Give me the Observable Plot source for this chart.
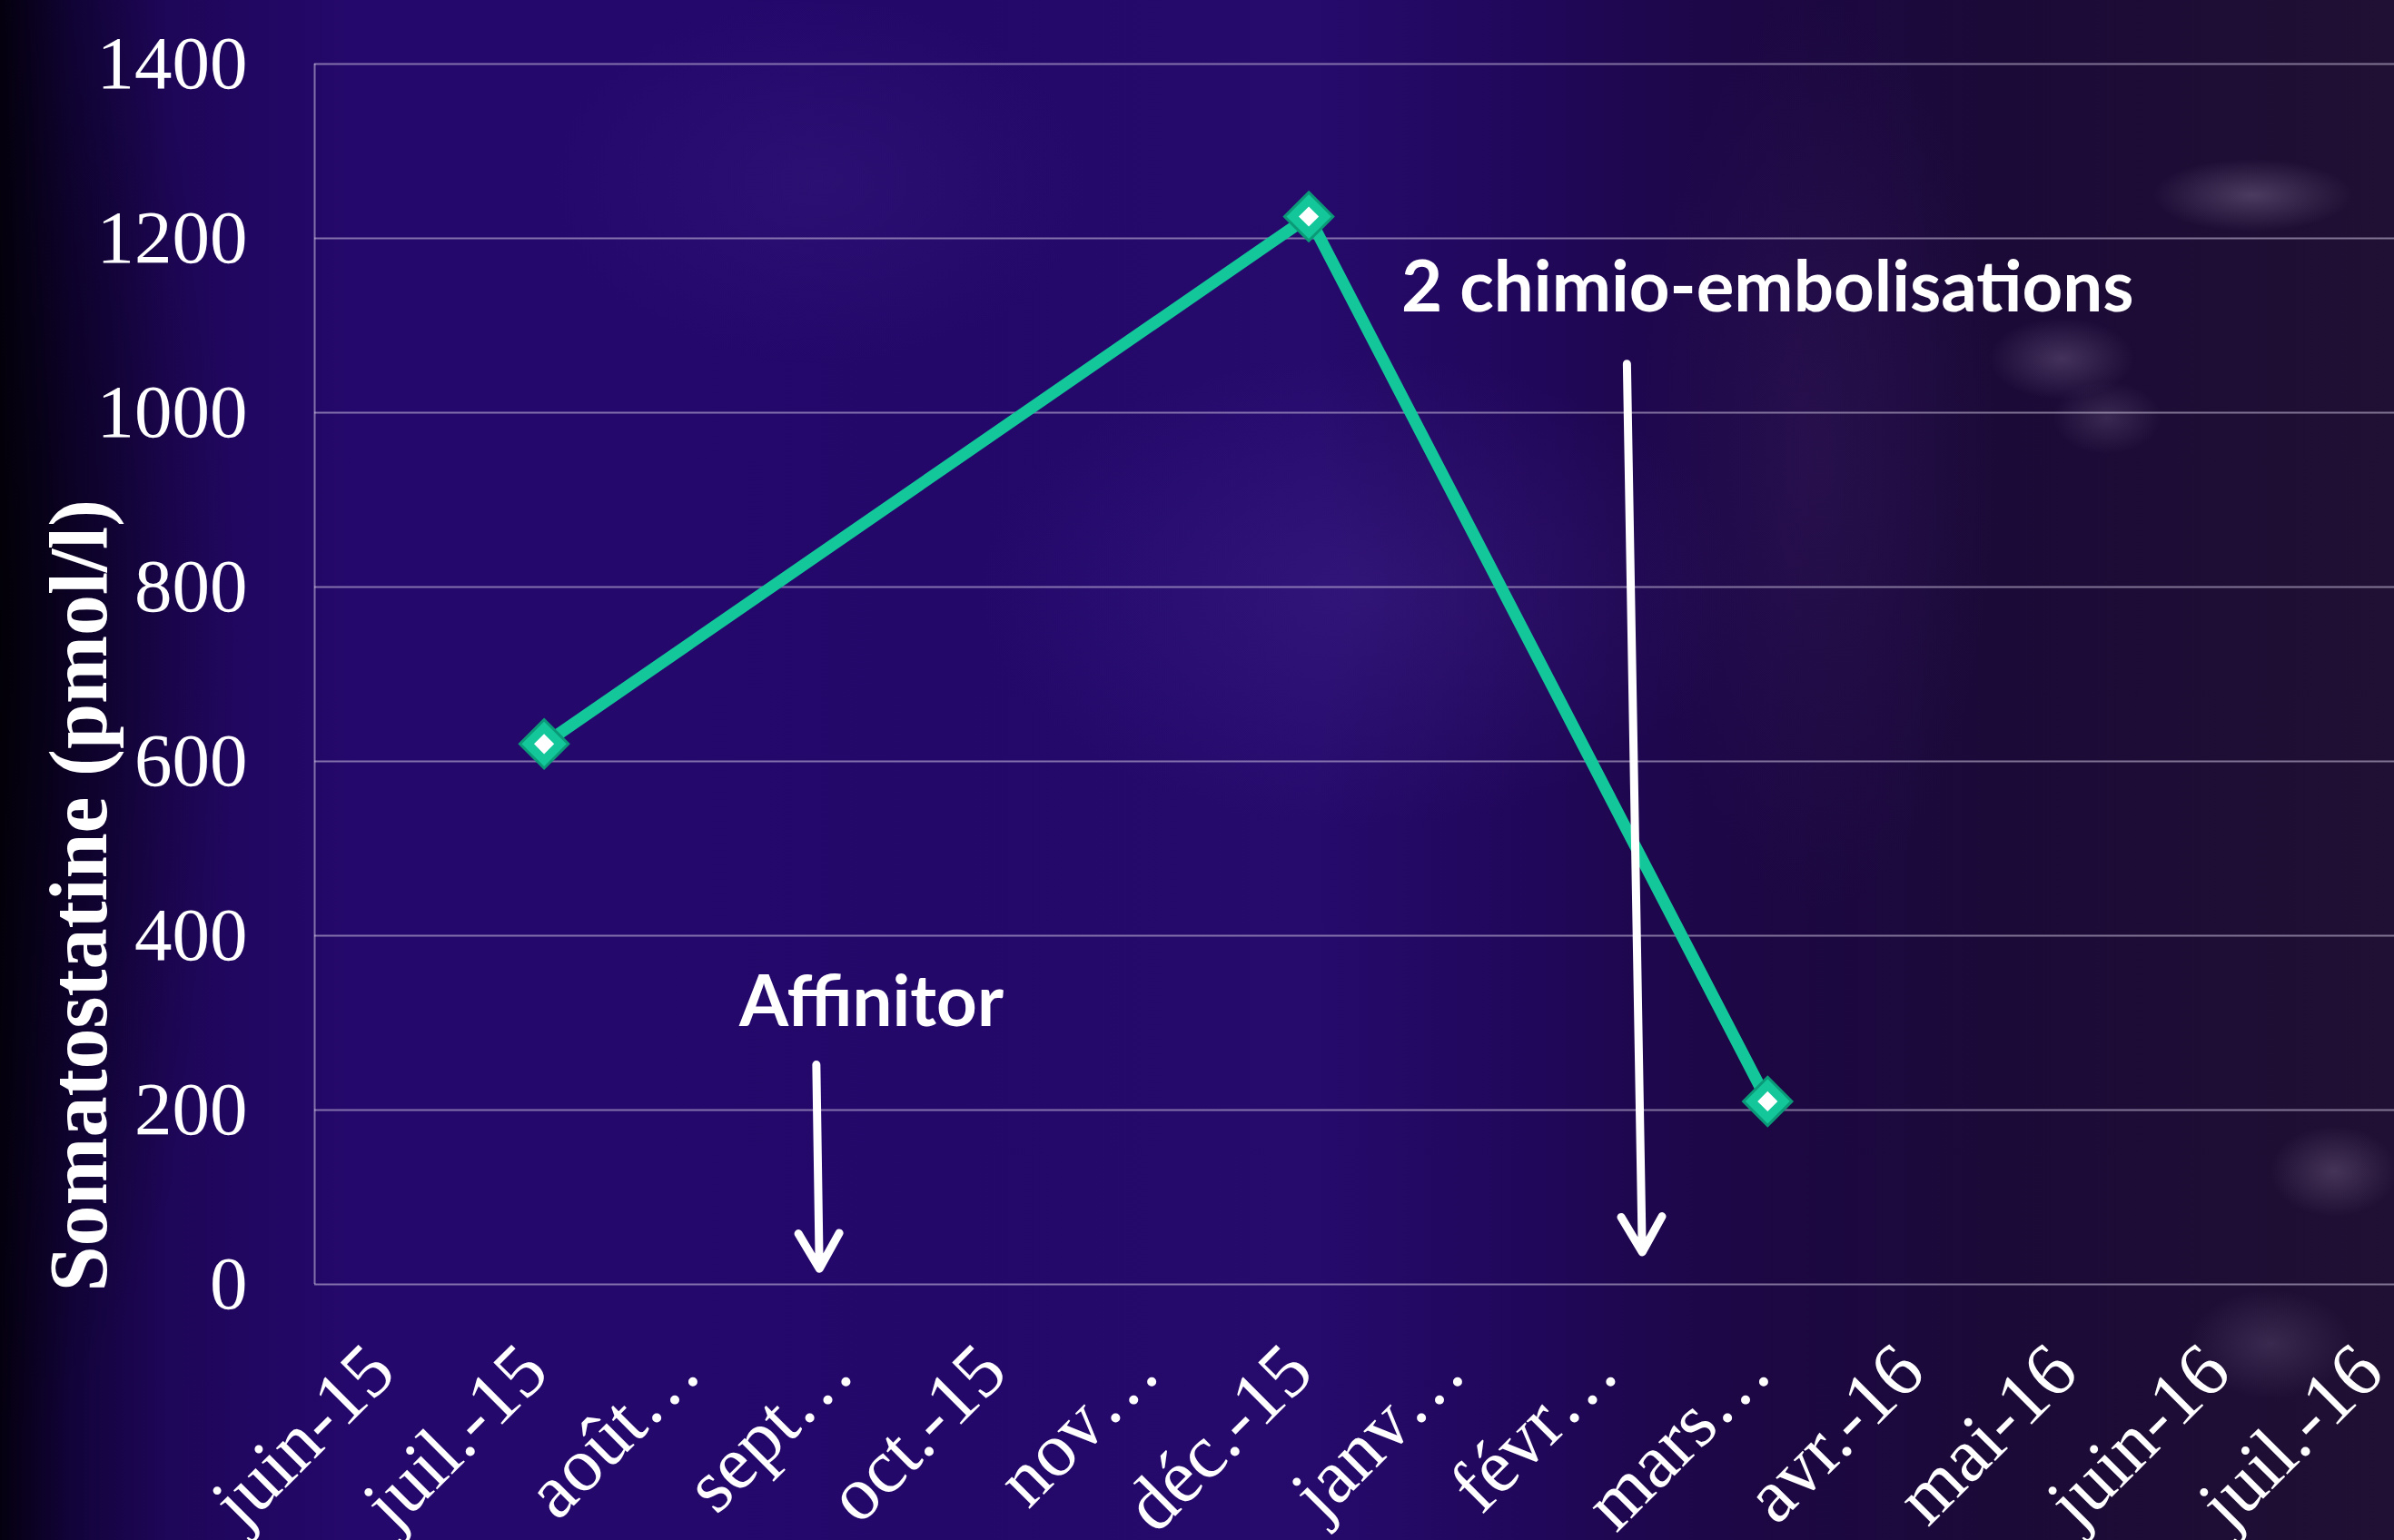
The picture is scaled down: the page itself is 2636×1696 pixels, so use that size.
<!DOCTYPE html>
<html><head><meta charset="utf-8">
<script src="https://cdn.jsdelivr.net/npm/d3@7"></script>
<script src="https://cdn.jsdelivr.net/npm/@observablehq/plot@0.6"></script>
<style>
html,body{margin:0;padding:0;width:2636px;height:1696px;overflow:hidden;}
body{
background:
 radial-gradient(ellipse 420px 260px at 1500px 650px, rgba(90,60,170,0.22), transparent),
 radial-gradient(ellipse 300px 200px at 900px 200px, rgba(80,50,150,0.18), transparent),
 radial-gradient(ellipse 110px 40px at 2480px 215px, rgba(210,195,225,0.25), transparent),
 radial-gradient(ellipse 80px 45px at 2270px 395px, rgba(210,190,225,0.22), transparent),
 radial-gradient(ellipse 60px 40px at 2320px 460px, rgba(210,190,225,0.16), transparent),
 radial-gradient(ellipse 70px 50px at 2570px 1290px, rgba(220,200,230,0.2), transparent),
 radial-gradient(ellipse 90px 60px at 2500px 1480px, rgba(200,180,220,0.16), transparent),
 radial-gradient(ellipse 200px 500px at 2000px 500px, rgba(70,40,110,0.25), transparent),
 radial-gradient(ellipse 260px 900px at 0px 700px, rgba(0,0,0,0.55), transparent),
 linear-gradient(to right, #050010 0%, #12033a 3%, #1e0658 7%, #25086c 15%, #23086a 40%, #260a6c 55%, #21075a 64%, #1d0746 72%, #1b0a37 84%, #201033 100%);
}
#chart svg{display:block;}
</style></head><body><div id="chart"></div><script>
// categories (months on the x axis)
const months = ["juin-15","juil.-15","août-15","sept.-15","oct.-15","nov.-15","déc.-15","janv.-16","févr.-16","mars-16","avr.-16","mai-16","juin-16","juil.-16"];
const tickLabels = ["juin-15","juil.-15","août…","sept…","oct.-15","nov…","déc.-15","janv…","févr…","mars…","avr.-16","mai-16","juin-16","juil.-16"];
// series
const sampleMonths = ["juil.-15","déc.-15","mars-16"];
const somatostatine = [620, 1225, 210];
// y ticks
const yTicks = [0,200,400,600,800,1000,1200,1400];
// annotations (x in month-index units, y in pmol/l)
const noteLabels = ["Affinitor","2 chimio-embolisations"];
const noteX = [3.14, 9.0];
const noteY = [296, 1116];
const arrowX1 = [2.78, 8.08];
const arrowY1 = [252, 1056];
const arrowX2 = [2.80, 8.18];
const arrowY2 = [18, 37];
const yLabel = "Somatostatine (pmol/l)";

const samples = sampleMonths.map((m,i)=>({x: months.indexOf(m), y: somatostatine[i]}));
const notes = noteLabels.map((t,i)=>({text:t, x:noteX[i], y:noteY[i]}));
const arrows = arrowX1.map((_,i)=>({x1:arrowX1[i], y1:arrowY1[i], x2:arrowX2[i], y2:arrowY2[i]}));

const teal = "#13c79b";
const grid = "rgba(210,200,225,0.55)";

const chart = Plot.plot({
  width: 2636, height: 1696,
  marginLeft: 346, marginRight: 0, marginTop: 70, marginBottom: 282,
  style: {background: "transparent", color: "white", fontFamily: "'Liberation Serif','Times New Roman',serif", fontSize: "84px", overflow: "hidden"},
  x: {domain: [-0.5, months.length - 0.5], range: [346, 346 + 168.4 * months.length]},
  y: {domain: [0, 1400]},
  marks: [
    Plot.ruleY(yTicks, {stroke: grid, strokeWidth: 2}),
    Plot.ruleX([-0.5], {stroke: grid, strokeWidth: 2}),
    Plot.axisY({ticks: yTicks, tickFormat: "d", tickSize: 0, tickPadding: 74, label: null, fontSize: 83, fill: "white"}),
    Plot.axisX({ticks: d3.range(months.length), tickFormat: i => tickLabels[i], tickRotate: -45, tickSize: 0, tickPadding: 100, textAnchor: "end", lineAnchor: "bottom", dx: 8, label: null, fontSize: 84, fill: "white"}),
    Plot.line(samples, {x: "x", y: "y", stroke: teal, strokeWidth: 13}),
    Plot.dot(samples, {x: "x", y: "y", symbol: "diamond2", r: 24, fill: teal, stroke: "#0a9a78", strokeWidth: 3}),
    Plot.dot(samples, {x: "x", y: "y", symbol: "diamond2", r: 10, fill: "white"}),
    Plot.arrow(arrows, {x1: "x1", y1: "y1", x2: "x2", y2: "y2", stroke: "white", strokeWidth: 9, headLength: 7.5, headAngle: 60}),
    Plot.text(notes, {x: "x", y: "y", text: "text", textAnchor: "middle", lineAnchor: "bottom", fontFamily: "'Comic Sans MS', Lato, sans-serif", fontWeight: "bold", fontSize: 78, fill: "white"}),
    Plot.text([yLabel], {text: d => d, frameAnchor: "bottom-left", rotate: -90, textAnchor: "start", lineAnchor: "bottom", dx: -230, dy: 8, fontWeight: "bold", fontSize: 90, fill: "white"})
  ]
});
document.getElementById("chart").appendChild(chart);
</script></body></html>
